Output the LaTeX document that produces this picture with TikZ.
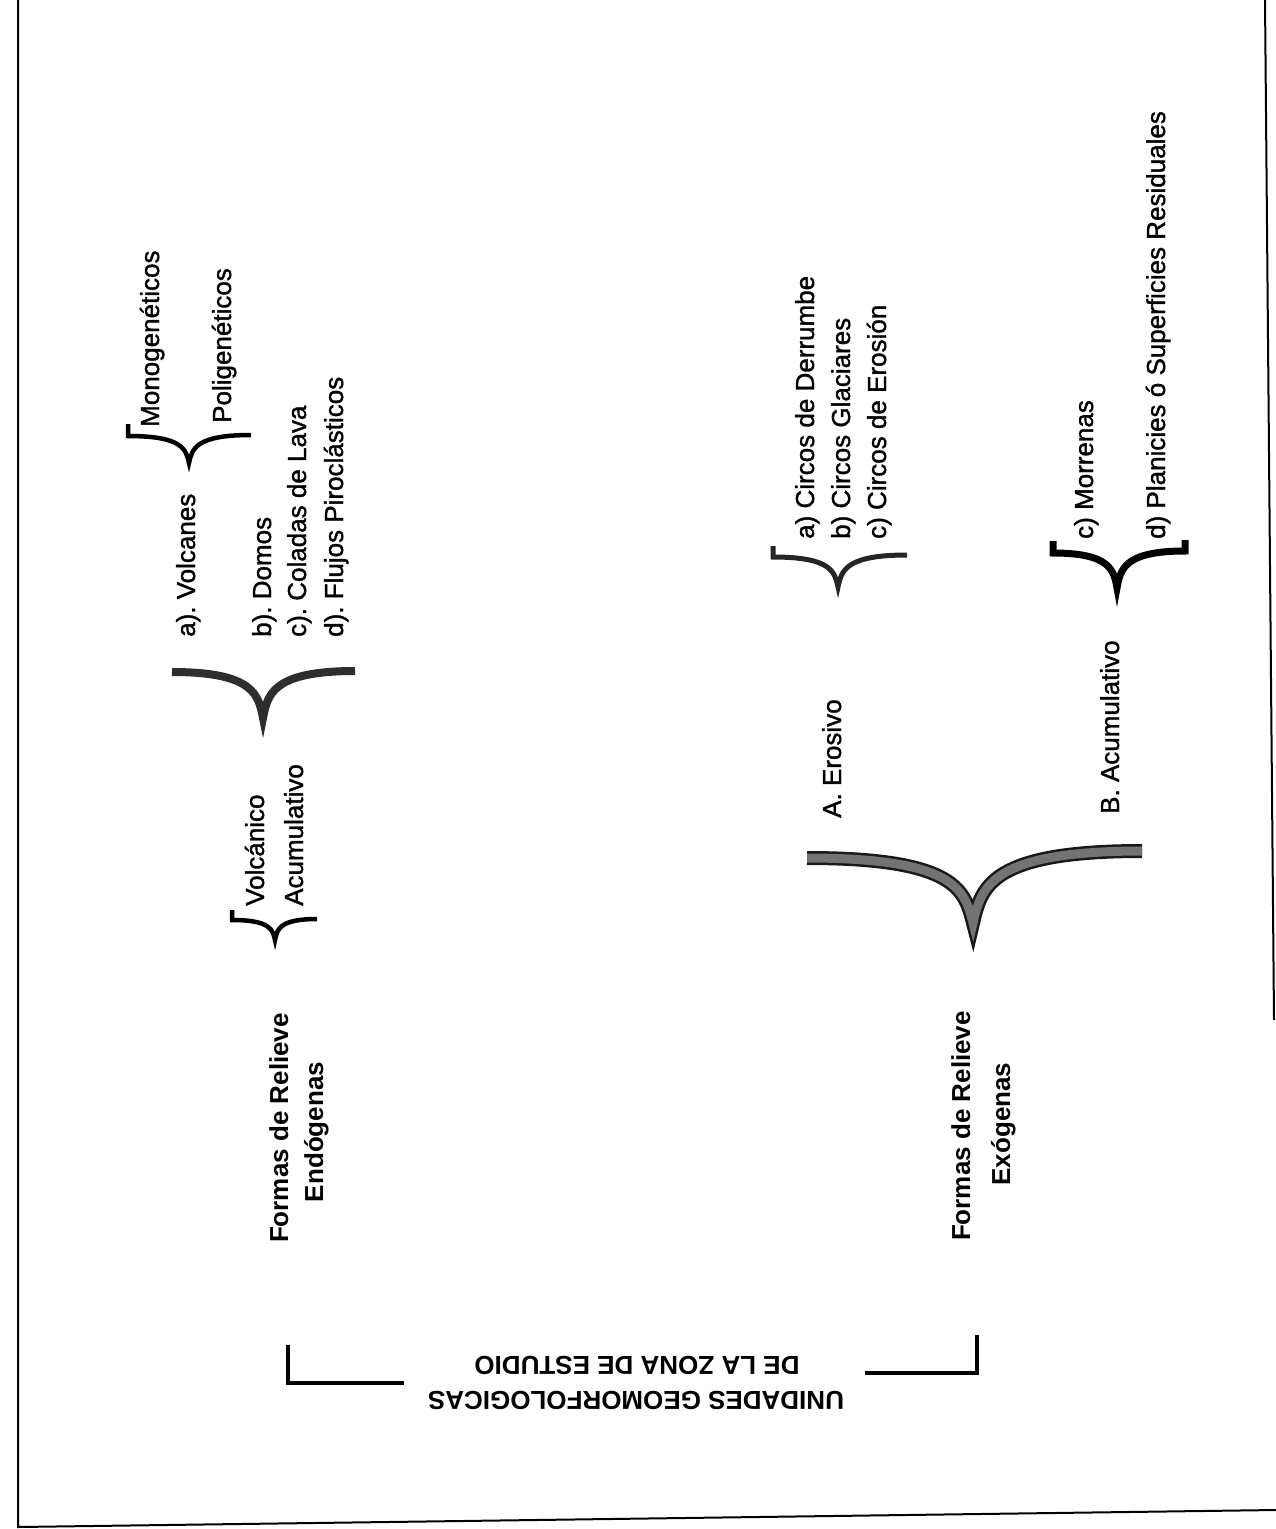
\documentclass[tikz,border=0pt]{standalone}
\usepackage{fontspec}
\setmainfont{Liberation Sans}
\newfontfamily\bodyfont[FakeBold=1.3]{Liberation Sans}
\usetikzlibrary{calc}
\frenchspacing
% #1 style, #2 prefix path, #3 left end, #4 tip, #5 right end, #6 suffix path
\newcommand\drawbrace[6]{%
  \draw[#1] #2 (#3) .. controls ($(#3)!0.9!(#4|-#3)$) and ($(#4)!0.5!($(#4|-#3)!0.1!(#3)$)$) .. (#4)
     .. controls ($(#4)!0.5!($(#4|-#5)!0.1!(#5)$)$) and ($(#5)!0.9!(#4|-#5)$) .. (#5) #6;}
\begin{document}
\begin{tikzpicture}[x=1pt,y=-1pt,
  body/.style={rotate=90, anchor=west, inner sep=0pt, font=\bodyfont\fontsize{26}{30}\selectfont, text height=19pt, text depth=5pt},
  ttl/.style={rotate=90, anchor=center, inner sep=0pt, font=\bfseries\fontsize{26}{30}\selectfont, text height=19pt, text depth=5pt},
  head/.style={rotate=180, anchor=center, inner sep=0pt, font=\bfseries\fontsize{26}{30}\selectfont, text height=19pt, text depth=5pt},
  framel/.style={line width=2pt, black},
  bracket/.style={line width=4pt, black},
  smallbrace/.style={line width=4.5pt, black},
  midbrace/.style={line width=7pt, black},
  darkbrace/.style={line width=8pt, black!82},
  graybrace/.style={line width=5pt, black!85},
  bigout/.style={line width=14pt, black!90},
  bigin/.style={line width=9pt, black!55}]
\useasboundingbox (0,0) rectangle (1276,1529);

% frame
\draw[framel] (18,0) -- (18,1527) -- (1276,1510);
\draw[framel] (1265,0) -- (1274,1020);

% texts
\node[body] (mono) at (152,427) {Monogenéticos};
\node[body] (poli) at (224,423) {Poligenéticos};
\node[body] (volc) at (188,637) {a).\ Volcanes};
\node[body] (domos) at (264,637) {b).\ Domos};
\node[body] (colad) at (299,637) {c).\ Coladas de Lava};
\node[body] (flujo) at (336,637) {d).\ Flujos Piroclásticos};
\node[body] (volca) at (257,906) {Volcánico};
\node[body] (acum) at (296,906) {Acumulativo};
\node[ttl] (endoA) at (281,1128) {Formas de Relieve};
\node[ttl] (endoB) at (316,1132) {Endógenas};

\node[body] (eros) at (834,818) {A.\ Erosivo};
\node[body] (acumB) at (1112,814) {B.\ Acumulativo};
\node[ttl] (exoA) at (963,1126) {Formas de Relieve};
\node[ttl] (exoB) at (1003,1124) {Exógenas};
\node[body] (circA) at (807,539) {a) Circos de Derrumbe};
\node[body] (circB) at (843,539) {b) Circos Glaciares};
\node[body] (circC) at (879,539) {c) Circos de Erosión};
\node[body] (morr) at (1086,539) {c) Morrenas};
\node[body] (plan) at (1158,539) {d) Planicies ó Superficies Residuales};

\node[head] (tit1) at (636,1398) {UNIDADES GEOMORFOLOGICAS};
\node[head] (tit2) at (637,1363) {DE LA ZONA DE ESTUDIO};

% title brackets
\coordinate (tl1) at (288,1345); \coordinate (tl2) at (288,1383); \coordinate (tl3) at (404,1383);
\coordinate (tr1) at (865,1373); \coordinate (tr2) at (977,1373); \coordinate (tr3) at (977,1335);
\draw[bracket] (tl1) -- (tl2) -- (tl3);
\draw[bracket] (tr1) -- (tr2) -- (tr3);

% brace coordinates
\coordinate (mL0) at (128,424); \coordinate (mL) at (128,436); \coordinate (mT) at (189,463); \coordinate (mR) at (251,435);
\coordinate (vL) at (172,672); \coordinate (vT) at (263,718); \coordinate (vR) at (355,671);
\coordinate (aL0) at (232,910); \coordinate (aL) at (232,920); \coordinate (aT) at (275,940); \coordinate (aR) at (317,919);
\coordinate (cL0) at (773,546); \coordinate (cL) at (773,557); \coordinate (cT) at (838,587); \coordinate (cR) at (907,555);
\coordinate (rL0) at (1053,541); \coordinate (rL) at (1053,553); \coordinate (rT) at (1117,588); \coordinate (rR) at (1185,551); \coordinate (rR0) at (1185,540);
\coordinate (eL) at (807,858); \coordinate (eT) at (973,923); \coordinate (eR) at (1142,851);

% braces
\drawbrace{smallbrace}{(mL0) --}{mL}{mT}{mR}{}
\drawbrace{darkbrace}{}{vL}{vT}{vR}{}
\drawbrace{smallbrace}{(aL0) --}{aL}{aT}{aR}{}
\drawbrace{graybrace}{(cL0) --}{cL}{cT}{cR}{}
\drawbrace{midbrace}{(rL0) --}{rL}{rT}{rR}{-- (rR0)}
\drawbrace{bigout}{}{eL}{eT}{eR}{}
\drawbrace{bigin}{}{eL}{eT}{eR}{}
\end{tikzpicture}
\end{document}
